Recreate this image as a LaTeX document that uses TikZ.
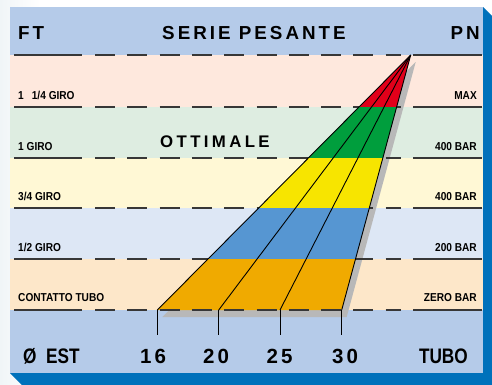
\documentclass[tikz,border=0pt]{standalone}
\usepackage{fontspec}
\setmainfont{Liberation Sans}
\newfontfamily\hdrfont[LetterSpace=16]{Liberation Sans}
\newfontfamily\optfont[LetterSpace=20]{Liberation Sans}
\newfontfamily\numfont[LetterSpace=15]{Liberation Sans}
\newfontfamily\narfont[FakeStretch=0.82]{Liberation Sans}
\newfontfamily\smlfont[FakeStretch=0.88]{Liberation Sans}
\definecolor{hdrblue}{RGB}{181,203,233}
\definecolor{bandA}{RGB}{254,232,221}
\definecolor{bandB}{RGB}{222,237,225}
\definecolor{bandC}{RGB}{255,248,213}
\definecolor{bandD}{RGB}{221,231,245}
\definecolor{bandE}{RGB}{253,231,201}
\definecolor{fanred}{RGB}{226,0,26}
\definecolor{fangreen}{RGB}{0,158,61}
\definecolor{fanyellow}{RGB}{247,229,0}
\definecolor{fanblue}{RGB}{86,150,210}
\definecolor{fanorange}{RGB}{240,170,0}
\definecolor{shblue}{RGB}{0,113,187}
\definecolor{shgray}{RGB}{184,184,184}
\definecolor{linegray}{RGB}{55,55,55}
\definecolor{outbg}{RGB}{240,245,247}
\begin{document}
\begin{tikzpicture}[x=1pt,y=-1pt,
  sepline/.style={draw=linegray,line width=1.2pt},
  sepdash/.style={draw=linegray,line width=1.2pt,dash pattern=on 20pt off 12.3pt},
  fanline/.style={draw=black,line width=0.9pt},
  small/.style={inner sep=0pt,font=\fontsize{11.5}{12}\selectfont\smlfont\bfseries},
  big/.style={inner sep=0pt,font=\fontsize{18.8}{20}\selectfont\hdrfont\bfseries},
  opt/.style={inner sep=0pt,font=\fontsize{16.8}{18}\selectfont\optfont\bfseries},
  num/.style={inner sep=0pt,font=\fontsize{20.5}{22}\selectfont\numfont\bfseries},
  bot/.style={inner sep=0pt,font=\fontsize{21}{22}\selectfont\narfont\bfseries}]
\useasboundingbox (0,0) rectangle (492,384);
% outer background
\fill[white] (0,0) rectangle (492,384);
\fill[left color=outbg,right color=white] (0,0) rectangle (40,384);
% panel shadow
\fill[shblue] (483,7) -- (494,18) -- (494,386) -- (23,386) -- (10,373) -- (483,373) -- cycle;
% panel bands
\fill[hdrblue] (10,7) rectangle (483,55);
\fill[bandA] (10,55) rectangle (483,107);
\fill[bandB] (10,107) rectangle (483,158);
\fill[bandC] (10,158) rectangle (483,208);
\fill[bandD] (10,208) rectangle (483,259);
\fill[bandE] (10,259) rectangle (483,310);
\fill[hdrblue] (10,310) rectangle (483,373);
% fan coordinates
\coordinate (apex) at (410.7,55);
\coordinate (b16) at (157.3,310);
\coordinate (b20) at (218.7,310);
\coordinate (b25) at (280,310);
\coordinate (b30) at (341.7,310);
\coordinate (t16) at (157.3,335);
\coordinate (t20) at (218.7,335);
\coordinate (t25) at (280,335);
\coordinate (t30) at (341.7,335);
% fan shadow
\fill[shgray] ([shift={(5,7)}]apex) -- ([shift={(5,7)}]b16) -- ([shift={(5,7)}]b30) -- cycle;
% separator lines
\foreach \yy in {55,107,158,208,259} {
  \draw[sepline] (14,\yy) -- (82,\yy);
  \draw[sepdash] (95,\yy) -- (401,\yy);
  \draw[sepline] (413,\yy) -- (482,\yy);
}
% fan fill
\begin{scope}
\clip (apex) -- (b16) -- (b30) -- cycle;
\fill[fanred] (100,50) rectangle (480,107);
\fill[fangreen] (100,107) rectangle (480,158);
\fill[fanyellow] (100,158) rectangle (480,208);
\fill[fanblue] (100,208) rectangle (480,259);
\fill[fanorange] (100,259) rectangle (480,311);
\end{scope}
\draw[fanline] (apex) -- (b16);
\draw[fanline] (apex) -- (b20);
\draw[fanline] (apex) -- (b25);
\draw[fanline] (apex) -- (b30);
% bottom separator
\draw[sepline] (14,310) -- (82,310);
\draw[sepdash] (95,310) -- (401,310);
\draw[sepline] (413,310) -- (482,310);
% ticks
\draw[fanline] (b16) -- (t16);
\draw[fanline] (b20) -- (t20);
\draw[fanline] (b25) -- (t25);
\draw[fanline] (b30) -- (t30);
% header texts
\node[big,anchor=base west] (ft) at (18,39) {FT};
\node[big,anchor=base west] (serie) at (162,39) {SERIE PESANTE};
\node[big,anchor=base east] (pn) at (480,39) {PN};
\node[opt,anchor=base west] (ottimale) at (160,147) {OTTIMALE};
% left labels
\node[small,anchor=base west] (l1) at (18,99.5) {1\hspace{0.7em}1/4 GIRO};
\node[small,anchor=base west] (l2) at (18,150) {1 GIRO};
\node[small,anchor=base west] (l3) at (18,200.5) {3/4 GIRO};
\node[small,anchor=base west] (l4) at (18,251) {1/2 GIRO};
\node[small,anchor=base west] (l5) at (18,301) {CONTATTO TUBO};
% right labels
\node[small,anchor=base east] (r1) at (477,99.5) {MAX};
\node[small,anchor=base east] (r2) at (477,150) {400 BAR};
\node[small,anchor=base east] (r3) at (477,200.5) {400 BAR};
\node[small,anchor=base east] (r4) at (477,251) {200 BAR};
\node[small,anchor=base east] (r5) at (477,301) {ZERO BAR};
% bottom texts
\node[bot,anchor=base west] (est) at (23,363) {Ø\hspace{0.45em}EST};
\node[num,anchor=base west] (n16) at (140,363) {16};
\node[num,anchor=base west] (n20) at (203,363) {20};
\node[num,anchor=base west] (n25) at (266.5,363) {25};
\node[num,anchor=base west] (n30) at (332,363) {30};
\node[bot,anchor=base east] (tubo) at (468,363) {TUBO};
\end{tikzpicture}
\end{document}
